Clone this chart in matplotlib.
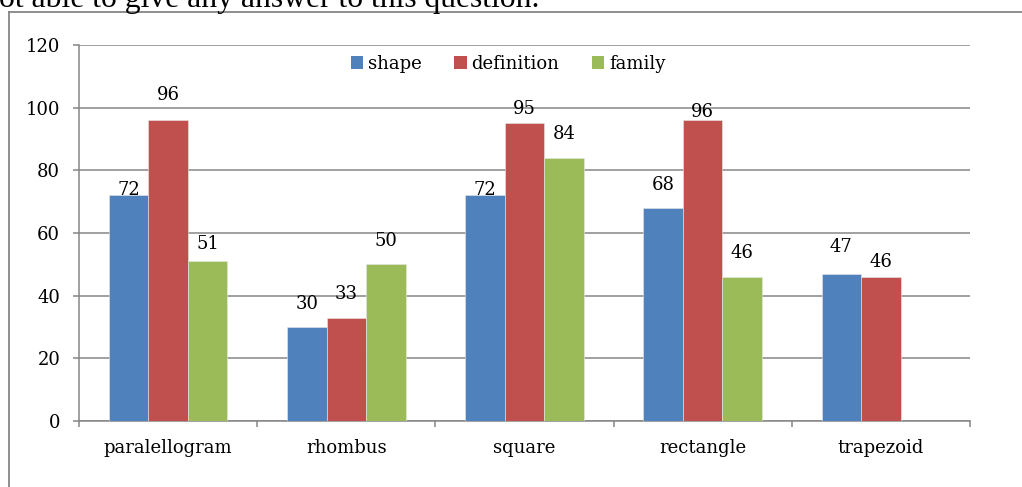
import numpy as np
import matplotlib
matplotlib.use("Agg")
import matplotlib.pyplot as plt
from matplotlib.patches import Patch
from matplotlib.lines import Line2D

categories = ['paralellogram', 'rhombus', 'square', 'rectangle', 'trapezoid']
shape = [72, 30, 72, 68, 47]
definition = [96, 33, 95, 96, 46]
family = [51, 50, 84, 46, np.nan]
yticks = [0, 20, 40, 60, 80, 100, 120]

series = [('shape', shape, '#4F81BD'),
          ('definition', definition, '#C0504D'),
          ('family', family, '#9BBB59')]

# label lift above each bar top, in pixels (Excel moved some of them)
lifts = [[5, 23, 5, 23, 27],
         [25, 24, 14, 8, 15],
         [17, 23, 24, 24, 0]]

plt.rcParams['font.family'] = ['DejaVu Serif']
W, H = 1022, 487
fig = plt.figure(figsize=(W / 100, H / 100), dpi=100)
ax = fig.add_axes([79 / W, (H - 421) / H, (970 - 79) / W, (421 - 45) / H])

grid_c = '#868686'
fs = 13
x = np.arange(len(categories))
w = 0.222

for i, (name, vals, col) in enumerate(series):
    pos = x + (i - 1) * w
    ax.bar(pos, vals, width=w, color=col, edgecolor='#e8e8e8', linewidth=0.4, zorder=3)
    for j, v in enumerate(vals):
        if np.isnan(v):
            continue
        ax.annotate(f'{v:g}', (pos[j], v), xytext=(0, lifts[i][j] * 0.72),
                    textcoords='offset points', ha='center', va='center',
                    fontsize=fs, zorder=4)

ax.set_xlim(-0.5, len(categories) - 0.5)
ax.set_ylim(0, 120)
ax.set_yticks(yticks)
ax.yaxis.grid(True, color=grid_c, linewidth=1.1, zorder=0)
ax.set_axisbelow(True)

ax.set_xticks(x)
ax.set_xticklabels(categories)
ax.set_xticks(np.arange(len(categories) + 1) - 0.5, minor=True)
ax.tick_params(axis='x', which='major', length=0, pad=13, labelsize=fs)
ax.tick_params(axis='x', which='minor', length=4.5, width=1.1, color=grid_c, direction='out')
ax.tick_params(axis='y', length=4.5, width=1.1, color=grid_c, pad=9, labelsize=fs)

for s in ['top', 'right']:
    ax.spines[s].set_visible(False)
for s in ['left', 'bottom']:
    ax.spines[s].set_color(grid_c)
    ax.spines[s].set_linewidth(1.1)

handles = [Patch(facecolor=c, label=n) for n, _, c in series]
fig.legend(handles=handles, loc='center', bbox_to_anchor=(508 / W, (H - 64) / H),
           ncol=3, frameon=False, fontsize=fs, handlelength=0.7, handleheight=0.7,
           handletextpad=0.25, columnspacing=1.8, borderpad=0)

# page frame and the cut-off document line above it
fig.add_artist(Line2D([8.5 / W, 8.5 / W], [0, (H - 12) / H], color=grid_c, linewidth=1.3))
fig.add_artist(Line2D([8.5 / W, 1], [(H - 12) / H, (H - 12) / H], color=grid_c, linewidth=1.3))
fig.text(-1 / W, (H - 7.5) / H, 'ot able to give any answer to this question.',
         family='Liberation Serif', fontsize=22.8, va='baseline', ha='left')

fig.savefig('out.png', dpi=100)
